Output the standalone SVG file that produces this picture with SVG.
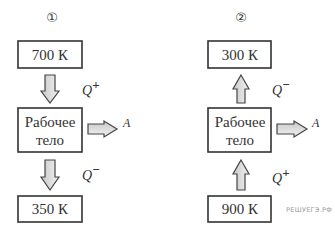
<svg xmlns="http://www.w3.org/2000/svg" width="335" height="235" viewBox="0 0 335 235">
<defs>
<linearGradient id="gv" x1="0" y1="0" x2="1" y2="0"><stop offset="0" stop-color="#c8c8c8"/><stop offset="1" stop-color="#f2f2f2"/></linearGradient>
<linearGradient id="gh" x1="0" y1="0" x2="0" y2="1"><stop offset="0" stop-color="#c8c8c8"/><stop offset="1" stop-color="#f2f2f2"/></linearGradient>
</defs>
<style>
.box{fill:#fff;stroke:#333;stroke-width:1.6}
.t{font-size:15px;fill:#333;text-anchor:middle}
.q{font-style:italic;font-size:14px;fill:#333}
.a{font-style:italic;font-size:12px;fill:#333}
.c{font-size:13px;fill:#333;text-anchor:middle}
.av{fill:url(#gv);stroke:#444;stroke-width:1.2;stroke-linejoin:miter}
.ah{fill:url(#gh);stroke:#444;stroke-width:1.2;stroke-linejoin:miter}
.w{font-size:6.5px;fill:#999;letter-spacing:0.3px}
</style>
<g font-family="Liberation Serif, Times New Roman, serif">
<text class="c" x="52" y="22" font-family="DejaVu Sans, sans-serif">①</text>
<text class="c" x="241" y="22" font-family="DejaVu Sans, sans-serif">②</text>
<g id="hot1"><rect class="box" x="18" y="41" width="64" height="27"/><text class="t" x="50" y="60">700 К</text></g>
<g id="body1"><rect class="box" x="18" y="108" width="64" height="44"/><text class="t" x="50" y="127">Рабочее</text><text class="t" x="50" y="145">тело</text></g>
<g id="cold1"><rect class="box" x="18" y="196" width="64" height="26"/><text class="t" x="50" y="214">350 К</text></g>
<g id="cold2"><rect class="box" x="208" y="41" width="63" height="27"/><text class="t" x="240" y="60">300 К</text></g>
<g id="body2"><rect class="box" x="208" y="108" width="63" height="44"/><text class="t" x="240" y="127">Рабочее</text><text class="t" x="240" y="145">тело</text></g>
<g id="hot2"><rect class="box" x="208" y="196" width="63" height="26"/><text class="t" x="240" y="214">900 К</text></g>
<g id="connectors">
<path class="av" d="M45,75 H55 V91 H59 L50,103 L41,91 H45 Z"/>
<path class="av" d="M45,160 H55 V177 H59 L50,190 L41,177 H45 Z"/>
<path class="ah" d="M88,124 H104 V121 L117,129 L104,137 V134 H88 Z"/>
<path class="av" d="M241,75 L249,89 H245 V103 H237 V89 H233 Z"/>
<path class="av" d="M241,160 L249,174 H245 V190 H237 V174 H233 Z"/>
<path class="ah" d="M277,124 H294 V121 L307,129 L294,137 V134 H277 Z"/>
</g>
<text class="q" x="82" y="95">Q<tspan dy="-6" font-size="13" font-style="normal" font-weight="bold">+</tspan></text>
<text class="q" x="82" y="180">Q<tspan dy="-6" font-size="13" font-style="normal" font-weight="bold">−</tspan></text>
<text class="q" x="272" y="95">Q<tspan dy="-6" font-size="13" font-style="normal" font-weight="bold">−</tspan></text>
<text class="q" x="272" y="183">Q<tspan dy="-6" font-size="13" font-style="normal" font-weight="bold">+</tspan></text>
<text class="a" x="123" y="127">A</text>
<text class="a" x="312" y="127">A</text>
<text class="w" x="286" y="212" font-family="DejaVu Sans, sans-serif">РЕШУЕГЭ.РФ</text>
</g>
</svg>
